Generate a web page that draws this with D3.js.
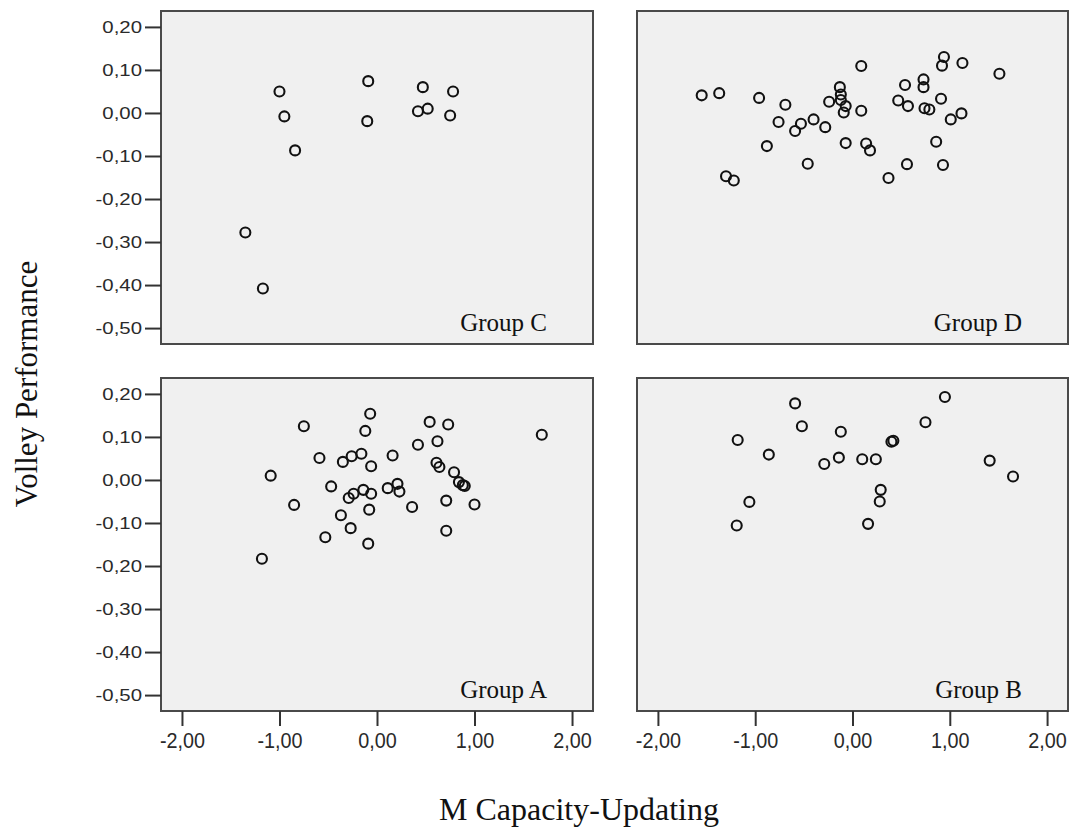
<!DOCTYPE html>
<html>
<head>
<meta charset="utf-8">
<script src="https://cdn.jsdelivr.net/npm/d3@7"></script>
<style>
  body { margin: 0; background: #fff; }
  svg { display: block; }
</style>
</head>
<body>
<div id="chart"></div>
<script>
// values
const groupA_x = [-1.18, -1.09, -0.85, -0.75, -0.59, -0.53, -0.47, -0.37, -0.35, -0.27, -0.29, -0.24, -0.26, -0.16, -0.14, -0.06, -0.08, -0.09, -0.12, -0.07, -0.06, 0.16, 0.11, 0.21, 0.23, 0.36, 0.42, 0.54, 0.62, 0.61, 0.64, 0.73, 0.71, 0.71, 0.79, 0.84, 0.88, 0.90, 1.00, 1.69];
const groupA_y = [-0.183, 0.010, -0.058, 0.125, 0.051, -0.133, -0.015, -0.082, 0.042, -0.112, -0.042, -0.032, 0.055, 0.061, -0.023, -0.032, -0.069, -0.148, 0.114, 0.154, 0.032, 0.057, -0.019, -0.009, -0.027, -0.063, 0.082, 0.135, 0.090, 0.040, 0.030, 0.129, -0.048, -0.118, 0.018, -0.005, -0.012, -0.014, -0.057, 0.105];

const groupB_x = [-1.18, -1.06, -1.19, -0.86, -0.59, -0.52, -0.29, -0.14, -0.12, 0.10, 0.24, 0.29, 0.28, 0.16, 0.40, 0.42, 0.75, 0.95, 1.41, 1.65];
const groupB_y = [0.093, -0.051, -0.106, 0.059, 0.178, 0.125, 0.037, 0.052, 0.112, 0.048, 0.048, -0.023, -0.050, -0.102, 0.089, 0.091, 0.134, 0.193, 0.045, 0.008];

const groupC_x = [-1.00, -0.95, -0.84, -1.35, -1.17, -0.09, -0.10, 0.47, 0.42, 0.52, 0.78, 0.75];
const groupC_y = [0.050, -0.008, -0.087, -0.278, -0.408, 0.074, -0.019, 0.060, 0.004, 0.010, 0.050, -0.006];

const groupD_x = [-1.55, -1.37, -0.96, -0.69, -0.76, -0.53, -0.59, -0.40, -0.28, -0.88, -0.46, -1.30, -1.22, -0.24, -0.13, -0.12, -0.12, -0.07, -0.09, 0.09, 0.09, -0.07, 0.14, 0.18, 0.37, 0.54, 0.47, 0.57, 0.56, 0.73, 0.73, 0.74, 0.79, 0.91, 0.94, 0.92, 1.13, 1.12, 1.01, 0.86, 0.93, 1.51];
const groupD_y = [0.041, 0.046, 0.035, 0.019, -0.021, -0.025, -0.042, -0.015, -0.033, -0.077, -0.118, -0.147, -0.157, 0.026, 0.060, 0.043, 0.030, 0.016, 0.001, 0.109, 0.005, -0.070, -0.071, -0.087, -0.151, 0.065, 0.029, 0.016, -0.119, 0.078, 0.060, 0.011, 0.008, 0.033, 0.130, 0.110, 0.116, -0.001, -0.015, -0.067, -0.121, 0.091];

const xTicks = [-2, -1, 0, 1, 2];
const yTicks = [0.2, 0.1, 0, -0.1, -0.2, -0.3, -0.4, -0.5];
const xTitle = "M Capacity-Updating";
const yTitle = "Volley Performance";

const width = 1069, height = 829;
const svg = d3.select("#chart").append("svg")
    .attr("width", width)
    .attr("height", height);

const fmt = v => v.toFixed(2).replace(".", ",");

// panel boxes
const cols = [[161, 593], [637, 1068]];
const rows = [[11, 344], [378, 711]];

const panels = [
    { name: "Group C", xs: groupC_x, ys: groupC_y, col: 0, row: 0 },
    { name: "Group D", xs: groupD_x, ys: groupD_y, col: 1, row: 0 },
    { name: "Group A", xs: groupA_x, ys: groupA_y, col: 0, row: 1 },
    { name: "Group B", xs: groupB_x, ys: groupB_y, col: 1, row: 1 }
];

panels.forEach(p => {
    const [x0, x1] = cols[p.col];
    const [y0, y1] = rows[p.row];

    const x = d3.scaleLinear().domain([-2.215, 2.215]).range([x0, x1]);
    const y = d3.scaleLinear().domain([-0.537, 0.237]).range([y1, y0]);

    const g = svg.append("g");

    g.append("rect")
        .attr("x", x0).attr("y", y0)
        .attr("width", x1 - x0).attr("height", y1 - y0)
        .attr("fill", "#f0f0f0")
        .attr("stroke", "#4a4a4a")
        .attr("stroke-width", 2);

    if (p.col === 0) {
        const ay = g.append("g")
            .attr("transform", "translate(" + x0 + ",0)")
            .call(d3.axisLeft(y).tickValues(yTicks).tickFormat(fmt).tickSize(16).tickPadding(3));
        ay.select(".domain").remove();
        ay.selectAll("line").attr("stroke", "#333").attr("stroke-width", 2);
        ay.selectAll("text")
            .attr("x", -19 / 1.2)
            .attr("transform", "scale(1.2,1)")
            .attr("fill", "#2a2a2a")
            .style("font-family", "'Liberation Sans', Arial, sans-serif")
            .style("font-size", "17px");
    }

    if (p.row === 1) {
        const ax = g.append("g")
            .attr("transform", "translate(0," + y1 + ")")
            .call(d3.axisBottom(x).tickValues(xTicks).tickFormat(fmt).tickSize(15).tickPadding(6));
        ax.select(".domain").remove();
        ax.selectAll("line").attr("stroke", "#333").attr("stroke-width", 2);
        ax.selectAll(".tick text")
            .attr("fill", "#2a2a2a")
            .attr("transform", "scale(0.9,1)")
            .style("font-family", "'Liberation Sans', Arial, sans-serif")
            .style("font-size", "22px");
    }

    g.selectAll("circle.pt")
        .data(p.xs.map((v, i) => [v, p.ys[i]]))
        .enter().append("circle")
        .attr("class", "pt")
        .attr("cx", d => x(d[0]))
        .attr("cy", d => y(d[1]))
        .attr("r", 5)
        .attr("fill", "none")
        .attr("stroke", "#111")
        .attr("stroke-width", 2.1);

    g.append("text")
        .attr("x", x1 - 46)
        .attr("y", y1 - 13)
        .attr("text-anchor", "end")
        .attr("fill", "#111")
        .style("font-family", "'Liberation Serif', 'Times New Roman', serif")
        .style("font-size", "25px")
        .text(p.name);
});

svg.append("text")
    .attr("x", 579)
    .attr("y", 820)
    .attr("text-anchor", "middle")
    .attr("fill", "#111")
    .style("font-family", "'Liberation Serif', 'Times New Roman', serif")
    .style("font-size", "32px")
    .text(xTitle);

svg.append("text")
    .attr("transform", "translate(37,384) rotate(-90)")
    .attr("text-anchor", "middle")
    .attr("fill", "#111")
    .style("font-family", "'Liberation Serif', 'Times New Roman', serif")
    .style("font-size", "31px")
    .text(yTitle);
</script>
</body>
</html>
